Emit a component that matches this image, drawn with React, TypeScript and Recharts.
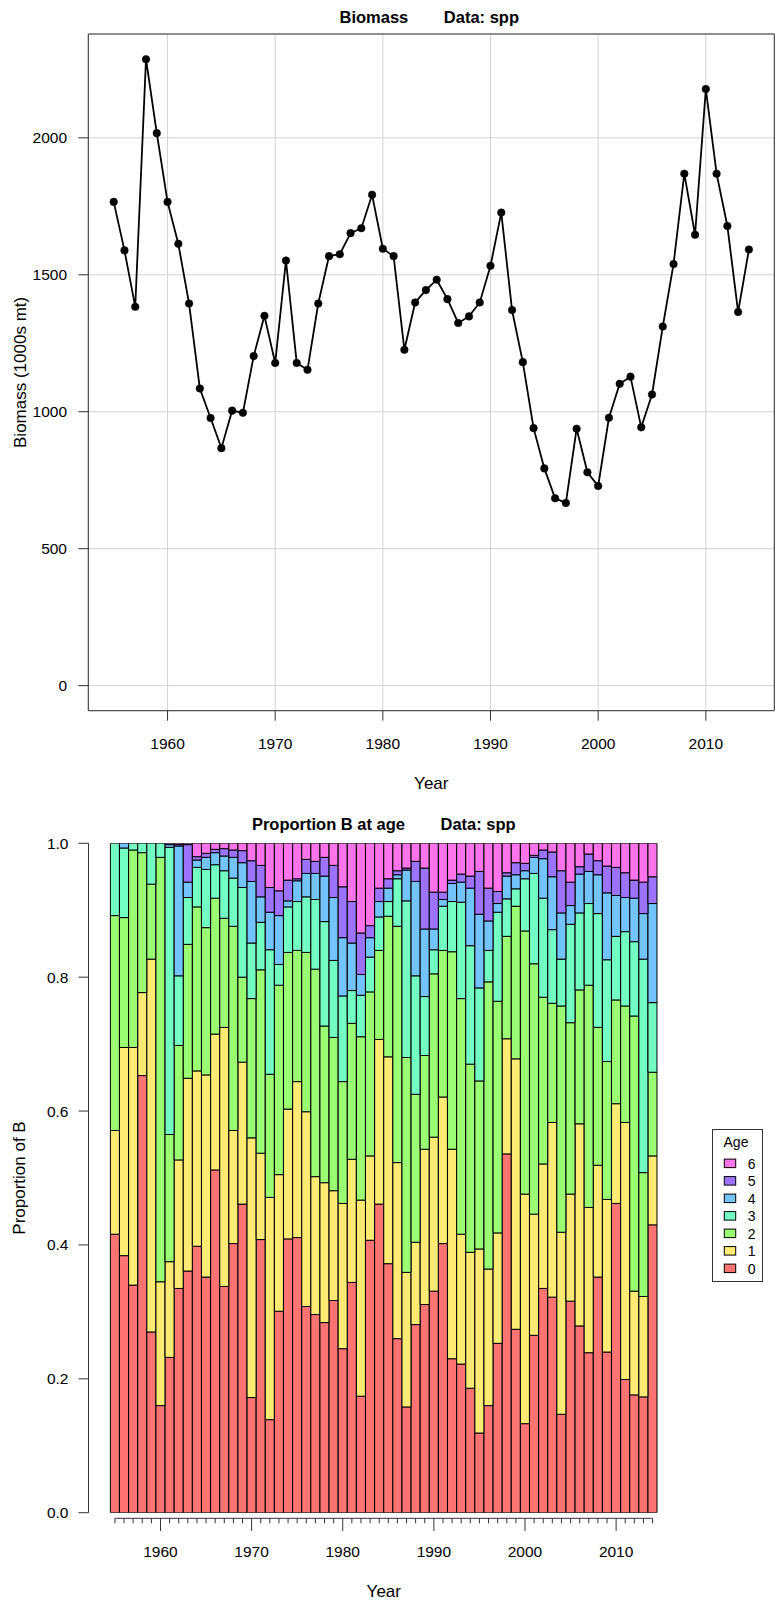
import React from 'react';
import {
  LineChart,
  Line,
  XAxis,
  YAxis,
  CartesianGrid,
  ReferenceArea,
  ReferenceLine,
  BarChart,
  Bar,
  Legend,
} from 'recharts';

const FONT = '"Liberation Sans", Arial, Helvetica, sans-serif';

// ---------- data ----------
const years = [
  1955, 1956, 1957, 1958, 1959, 1960, 1961, 1962, 1963, 1964,
  1965, 1966, 1967, 1968, 1969, 1970, 1971, 1972, 1973, 1974,
  1975, 1976, 1977, 1978, 1979, 1980, 1981, 1982, 1983, 1984,
  1985, 1986, 1987, 1988, 1989, 1990, 1991, 1992, 1993, 1994,
  1995, 1996, 1997, 1998, 1999, 2000, 2001, 2002, 2003, 2004,
  2005, 2006, 2007, 2008, 2009, 2010, 2011, 2012, 2013, 2014,
];

const biomass = [
  1766, 1589, 1383, 2287, 2017, 1766, 1613, 1395, 1085, 977,
  867, 1004, 996, 1203, 1350, 1178, 1552, 1178, 1153, 1395,
  1568, 1575, 1652, 1670, 1792, 1595, 1568, 1226, 1399, 1444,
  1482, 1411, 1324, 1348, 1399, 1533, 1727, 1371, 1181, 940,
  793, 684, 667, 938, 779, 729, 978, 1102, 1128, 943,
  1063, 1311, 1539, 1869, 1646, 2178, 1869, 1678, 1364, 1592,
];

const age0 = [
  .416, .384, .340, .653, .270, .160, .232, .335, .361, .398,
  .352, .512, .338, .402, .461, .172, .408, .139, .301, .409,
  .411, .308, .296, .284, .317, .245, .344, .174, .407, .461,
  .372, .260, .158, .281, .311, .331, .402, .230, .222, .186,
  .119, .160, .253, .536, .274, .133, .265, .335, .322, .147,
  .316, .279, .239, .352, .240, .462, .199, .176, .173, .430,
];
const age1 = [
  .155, .311, .355, .124, .557, .185, .143, .192, .288, .262,
  .302, .203, .387, .169, .212, .388, .129, .332, .204, .194,
  .233, .291, .206, .209, .164, .217, .184, .293, .126, .246,
  .309, .263, .201, .123, .232, .230, .219, .313, .194, .203,
  .275, .204, .165, .172, .404, .343, .181, .186, .261, .272,
  .160, .302, .217, .167, .228, .149, .384, .155, .150, .103,
];
const age2 = [
  .321, .194, .295, .209, .112, .634, .190, .171, .200, .245,
  .220, .203, .163, .305, .127, .208, .274, .184, .283, .234,
  .196, .238, .310, .234, .229, .182, .203, .244, .245, .133,
  .210, .353, .321, .221, .140, .244, .219, .295, .352, .281,
  .251, .429, .346, .153, .228, .393, .374, .249, .178, .338,
  .256, .200, .332, .206, .206, .155, .174, .411, .185, .125,
];
const age3 = [
  .108, .104, .010, .014, .061, .021, .429, .104, .070, .059,
  .087, .050, .071, .072, .134, .083, .071, .186, .031, .068,
  .073, .083, .104, .156, .115, .128, .049, .062, .052, .050,
  .022, .071, .234, .177, .088, .036, .066, .075, .144, .177,
  .139, .047, .133, .056, .026, .078, .135, .148, .110, .070,
  .147, .115, .122, .170, .152, .095, .111, .111, .319, .104,
];
const age4 = [
  0, .007, 0, 0, 0, 0, .004, .194, .023, .011,
  .018, .018, .022, .031, .037, .092, .038, .056, .073, .009,
  .031, .035, .039, .068, .094, .087, .071, .031, .029, .023,
  .020, .006, .046, .141, .101, .031, .010, .027, .030, .086,
  .110, .044, .013, .034, .021, .012, .024, .059, .079, .069,
  .028, .058, .048, .058, .100, .061, .051, .065, .068, .148,
];
const age5 = [
  0, 0, 0, 0, 0, 0, .002, .002, .056, .005,
  .006, .005, .011, .011, .018, .031, .047, .037, .037, .031,
  .003, .021, .018, .028, .048, .076, .062, .062, .018, .020,
  .014, .006, .003, .030, .091, .055, .011, .005, .012, .018,
  .064, .049, .018, .005, .018, .011, .003, .013, .037, .063,
  .035, .011, .026, .021, .040, .042, .037, .027, .047, .040,
];
const age6 = [
  0, 0, 0, 0, 0, 0, 0, .002, .002, .020,
  .015, .009, .008, .010, .011, .026, .033, .066, .071, .055,
  .053, .024, .027, .021, .033, .065, .087, .134, .123, .067,
  .053, .041, .037, .027, .037, .073, .073, .055, .046, .049,
  .042, .067, .072, .044, .029, .030, .018, .010, .013, .041,
  .058, .035, .016, .026, .034, .036, .044, .055, .058, .050,
];

const ageLabels = ['0', '1', '2', '3', '4', '5', '6'];
const ageColors = ['#FF7373', '#FFEB73', '#9BFF73', '#73FFC3', '#73C3FF', '#9B73FF', '#FF73EB'];

const xTicksTop = [1960, 1970, 1980, 1990, 2000, 2010];
const yTicksTop = [0, 500, 1000, 1500, 2000];
const yTicksBottom = [0, 0.2, 0.4, 0.6, 0.8, 1.0];

const ageSeries = [age0, age1, age2, age3, age4, age5, age6];

const lineData = years.map((y, i) => ({ year: y, biomass: biomass[i] }));
const barData = years.map((y, i) => {
  const row: Record<string, number> = { year: y };
  ageSeries.forEach((s, k) => {
    row['a' + k] = s[i];
  });
  return row;
});

// ---------- helpers ----------
const YearTick = (props: any) => {
  const { x, y, payload } = props;
  const v = payload.value;
  const major = v % 10 === 0;
  return (
    <g>
      <line x1={x} x2={x} y1={y} y2={y + (major ? 12.7 : 5)} stroke="#333" strokeWidth={1} />
      {major && (
        <text x={x} y={y + 38.4} textAnchor="middle" fontSize={15.5} fontFamily={FONT} fill="#000">
          {v}
        </text>
      )}
    </g>
  );
};

const renderLegend = (props: any) => {
  let items: { value: string; color: string }[] = (props && props.payload ? props.payload : []).map(
    (p: any) => ({ value: String(p.value), color: p.color })
  );
  if (!items.length) items = ageLabels.map((l, k) => ({ value: l, color: ageColors[k] }));
  items = items.slice().reverse();
  return (
    <svg width={52} height={155} style={{ display: 'block', overflow: 'visible' }}>
      <rect x={0.5} y={0.5} width={50} height={152} fill="#fff" stroke="#333" strokeWidth={1} />
      <text x={24} y={17.7} textAnchor="middle" fontSize={14} fontFamily={FONT} fill="#000">
        Age
      </text>
      {items.map((it, k) => (
        <g key={k}>
          <rect
            x={12.3}
            y={34.3 + 17.5 * k - 4.2}
            width={11.4}
            height={8.5}
            fill={it.color}
            stroke="#000"
            strokeWidth={1}
          />
          <text
            x={39.7}
            y={34.3 + 17.5 * k + 5.2}
            textAnchor="middle"
            fontSize={14}
            fontFamily={FONT}
            fill="#000"
          >
            {it.value}
          </text>
        </g>
      ))}
    </svg>
  );
};

const tickStyle = { fontSize: 15.5, fill: '#000', fontFamily: FONT };

export default function App() {
  return (
    <div style={{ position: 'absolute', left: 0, top: 0, width: 775, height: 1600, background: '#fff' }}>
      {/* Top: biomass line chart */}
      <div style={{ position: 'absolute', left: 0, top: 0 }}>
        <LineChart
          width={775}
          height={800}
          data={lineData}
          margin={{ top: 34, right: 0.7, bottom: 0, left: 0 }}
        >
          <CartesianGrid stroke="#d3d3d3" strokeWidth={1} />
          <XAxis
            dataKey="year"
            type="number"
            domain={[1952.64, 2016.36]}
            allowDataOverflow
            ticks={xTicksTop}
            interval={0}
            height={89.3}
            tickSize={10}
            tickMargin={17}
            axisLine={false}
            tickLine={{ stroke: '#333' }}
            tick={tickStyle}
          />
          <YAxis
            type="number"
            domain={[-91.5, 2379]}
            allowDataOverflow
            ticks={yTicksTop}
            interval={0}
            width={88.3}
            tickSize={10}
            tickMargin={11.3}
            axisLine={false}
            tickLine={{ stroke: '#333' }}
            tick={tickStyle}
          />
          <ReferenceArea
            x1={1952.64}
            x2={2016.36}
            y1={-91.5}
            y2={2379}
            fill="none"
            fillOpacity={0}
            stroke="#333"
            strokeWidth={1}
            ifOverflow="visible"
          />
          <Line
            dataKey="biomass"
            type="linear"
            stroke="#000"
            strokeWidth={1.8}
            dot={{ r: 3.8, fill: '#000', stroke: '#000', strokeWidth: 0.5 }}
            activeDot={false}
            isAnimationActive={false}
          />
        </LineChart>
      </div>

      {/* Bottom: proportion at age stacked bars */}
      <div style={{ position: 'absolute', left: 0, top: 800 }}>
        <BarChart
          width={775}
          height={800}
          data={barData}
          margin={{ top: 43.3, right: 96, bottom: 0, left: 0 }}
          barCategoryGap={0}
          barGap={0}
        >
          <XAxis
            xAxisId="num"
            dataKey="year"
            type="number"
            domain={[1952.1, 2016.9]}
            allowDataOverflow
            ticks={years}
            interval={0}
            height={81.7}
            tickSize={0}
            tickMargin={0}
            axisLine={false}
            tickLine={false}
            tick={(p: any) => <YearTick {...p} />}
          />
          <XAxis
            xAxisId="cat"
            dataKey="year"
            type="category"
            hide
            height={0}
            padding={{ left: 21.9, right: 21.9 }}
          />
          <YAxis
            type="number"
            domain={[0, 1]}
            allowDataOverflow
            ticks={yTicksBottom}
            interval={0}
            width={88.5}
            padding={{ top: 0, bottom: 5.6 }}
            tickSize={10}
            tickMargin={10}
            axisLine={false}
            tickLine={{ stroke: '#333' }}
            tick={tickStyle}
            tickFormatter={(v: number) => v.toFixed(1)}
          />
          {ageSeries.map((_, k) => (
            <Bar
              key={k}
              xAxisId="cat"
              dataKey={'a' + k}
              name={ageLabels[k]}
              stackId="age"
              fill={ageColors[k]}
              stroke="#000"
              strokeWidth={1}
              isAnimationActive={false}
            />
          ))}
          <ReferenceLine
            xAxisId="num"
            segment={[
              { x: 1952.1, y: 0 },
              { x: 1952.1, y: 1 },
            ]}
            stroke="#333"
            strokeWidth={1}
            ifOverflow="visible"
          />
          <ReferenceLine
            xAxisId="num"
            segment={[
              { x: 1955, y: -0.00837 },
              { x: 2014, y: -0.00837 },
            ]}
            stroke="#333"
            strokeWidth={1}
            ifOverflow="visible"
          />
          <Legend
            layout="horizontal"
            align="center"
            verticalAlign="middle"
            wrapperStyle={{ position: 'absolute', left: 712, top: 329, width: 52, height: 155 }}
            content={renderLegend}
          />
        </BarChart>
      </div>

      {/* Titles and axis titles */}
      <svg
        width={775}
        height={1600}
        style={{ position: 'absolute', left: 0, top: 0, pointerEvents: 'none' }}
      >
        <g fontFamily={FONT} fill="#000">
          <text x={408.3} y={22.5} textAnchor="end" fontSize={16.5} fontWeight="bold">
            Biomass
          </text>
          <text x={443.8} y={22.5} textAnchor="start" fontSize={16.5} fontWeight="bold">
            Data: spp
          </text>
          <text x={431.3} y={789.3} textAnchor="middle" fontSize={17}>
            Year
          </text>
          <text transform="translate(25.5,372.4) rotate(-90)" textAnchor="middle" fontSize={17}>
            Biomass (1000s mt)
          </text>
          <text x={405} y={830} textAnchor="end" fontSize={16.5} fontWeight="bold">
            Proportion B at age
          </text>
          <text x={440.5} y={830} textAnchor="start" fontSize={16.5} fontWeight="bold">
            Data: spp
          </text>
          <text x={383.8} y={1596.7} textAnchor="middle" fontSize={17}>
            Year
          </text>
          <text transform="translate(25.2,1178) rotate(-90)" textAnchor="middle" fontSize={17}>
            Proportion of B
          </text>
        </g>
      </svg>
    </div>
  );
}
